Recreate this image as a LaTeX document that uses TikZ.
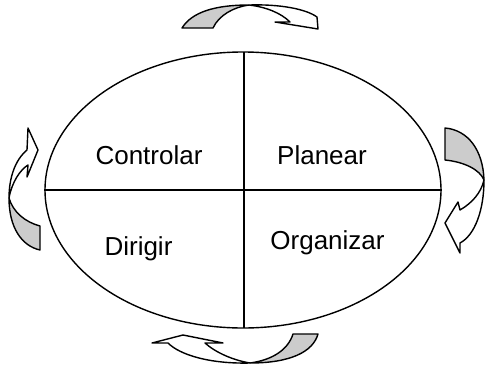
\documentclass[tikz,border=0pt]{standalone}
\usepackage{fontspec}
\setmainfont{Liberation Sans}
\usetikzlibrary{shapes.geometric}
\begin{document}
\begin{tikzpicture}[x=1pt,y=-1pt,
  line width=1.4pt,
  lbl/.style={font=\fontsize{26}{30}\selectfont, anchor=base, inner sep=0pt},
  backpart/.style={draw=black, fill=black!20, line join=round},
  frontpart/.style={draw=black, fill=white, line join=round}]
\useasboundingbox (0,0) rectangle (485,365);
% main ellipse
\node[ellipse, draw, minimum width=396pt, minimum height=276pt, inner sep=0pt, line width=1.4pt] (E) at (243,190) {};
\coordinate (top) at (244,52);
\coordinate (bot) at (244,328);
\draw (E.west) -- (E.east);
\draw (top) -- (bot);
% labels
\node[lbl] (c) at (149,164) {Controlar};
\node[lbl] (p) at (322,164) {Planear};
\node[lbl] (d) at (138.5,255) {Dirigir};
\node[lbl] (o) at (327.5,249) {Organizar};
% top arrow
\path[backpart] (182,28) .. controls (192,12) and (215,5) .. (249,5)
   .. controls (234,7) and (219,15) .. (213,28) -- cycle;
\path[frontpart] (249,5) .. controls (280,4) and (306,9) .. (317,17)
   -- (318,29) -- (275,22) -- (290,22)
   .. controls (281,13) and (266,7) .. (249,5) -- cycle;
% right arrow
\path[backpart] (445,128) .. controls (468,130) and (483,150) .. (484,180)
   .. controls (480,170) and (465,162) .. (445,160) -- cycle;
\path[frontpart] (484,180) .. controls (484,210) and (475,235) .. (460,243)
   -- (460,253) -- (445,223) -- (458,202) -- (460,210)
   .. controls (472,203) and (481,193) .. (484,180) -- cycle;
% left arrow
\path[backpart] (40,250) .. controls (22,246) and (9,228) .. (9,198)
   .. controls (13,212) and (25,222) .. (40,226) -- cycle;
\path[frontpart] (9,198) .. controls (9,178) and (15,160) .. (27,150)
   -- (28,128) -- (38,150) -- (27,177) -- (28,165)
   .. controls (20,170) and (12,182) .. (9,198) -- cycle;
% bottom arrow
\path[backpart] (318,334) .. controls (313,352) and (290,363) .. (250,363)
   .. controls (272,360) and (288,350) .. (293,334) -- cycle;
\path[frontpart] (250,363) .. controls (210,364) and (180,355) .. (168,343)
   -- (152,343) -- (183,335) -- (223,343) -- (205,343)
   .. controls (215,352) and (232,360) .. (250,363) -- cycle;
\end{tikzpicture}
\end{document}
